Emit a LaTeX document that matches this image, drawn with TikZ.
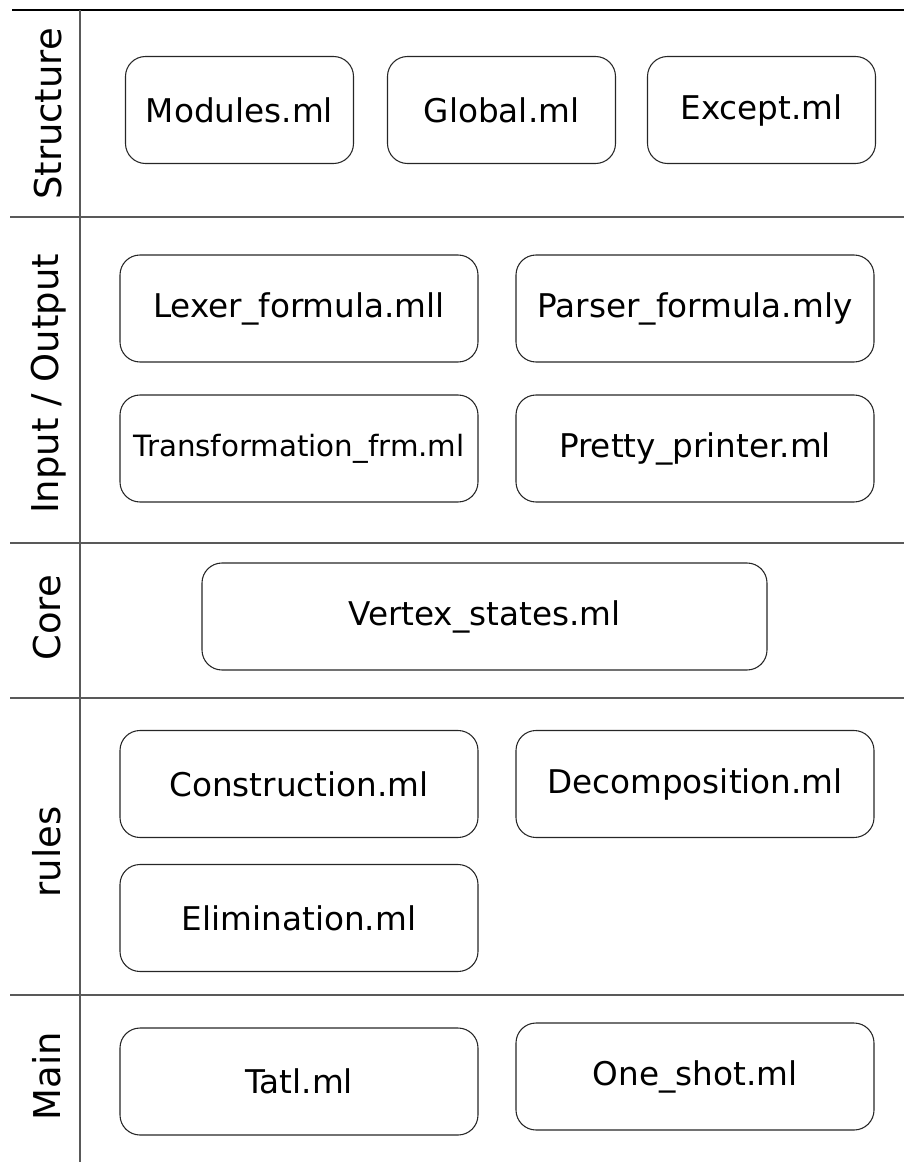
\documentclass[tikz,border=0pt]{standalone}
\usepackage{fontspec}
\setmainfont{DejaVu Sans}
\usepackage{tikz}

\tikzset{
  modbox/.style={draw=black!85,line width=0.8pt,rounded corners=15pt,inner sep=0pt,
    minimum height=80.25pt,font=\fontsize{24.5}{28}\selectfont},
  smallbox/.style={modbox,minimum width=171pt},
  widebox/.style={modbox,minimum width=268.5pt},
  corebox/.style={modbox,minimum width=423.75pt},
  rowlabel/.style={rotate=90,anchor=base,inner sep=0pt,font=\fontsize{27.7}{32}\selectfont},
  sepline/.style={draw=black!65,line width=0.8pt}
}

\begin{document}
\begin{tikzpicture}[x=0.75pt,y=-0.75pt]
\useasboundingbox (0,0) rectangle (904,1162);

\draw[line width=0.8pt] (12,10) -- (904,10);
\draw[sepline] (10,217) -- (904,217);
\draw[sepline] (10,543) -- (904,543);
\draw[sepline] (10,698) -- (904,698);
\draw[sepline] (10,995) -- (904,995);
\draw[sepline] (80,10) -- (80,1162);

\node[rowlabel] (lstructure) at (61,114) {Structure};
\node[rowlabel] (lio) at (58,384) {Input / Output};
\node[rowlabel] (lcore) at (60,618) {Core};
\node[rowlabel] (lrules) at (60,852) {rules};
\node[rowlabel] (lmain) at (60,1076) {Main};

\node[smallbox] (modules) at (239.5,110) {Modules.ml};
\node[smallbox] (global) at (501.5,110) {Global.ml};
\node[smallbox] (except) at (761.5,110) {Except.ml};

\node[widebox] (lexer) at (299,308.5) {Lexer\_formula.mll};
\node[widebox] (parser) at (695,308.5) {Parser\_formula.mly};
\node[widebox,font=\fontsize{22}{26}\selectfont] (transfo) at (299,448.5) {Transformation\_frm.ml};
\node[widebox] (pretty) at (695,448.5) {Pretty\_printer.ml};

\node[corebox] (vertex) at (484.5,616.5) {Vertex\_states.ml};

\node[widebox] (constr) at (299,784) {Construction.ml};
\node[widebox] (decomp) at (695,784) {Decomposition.ml};
\node[widebox] (elim) at (299,918) {Elimination.ml};

\node[widebox] (tatl) at (299,1081.5) {Tatl.ml};
\node[widebox] (oneshot) at (695,1076.5) {One\_shot.ml};
\end{tikzpicture}
\end{document}
